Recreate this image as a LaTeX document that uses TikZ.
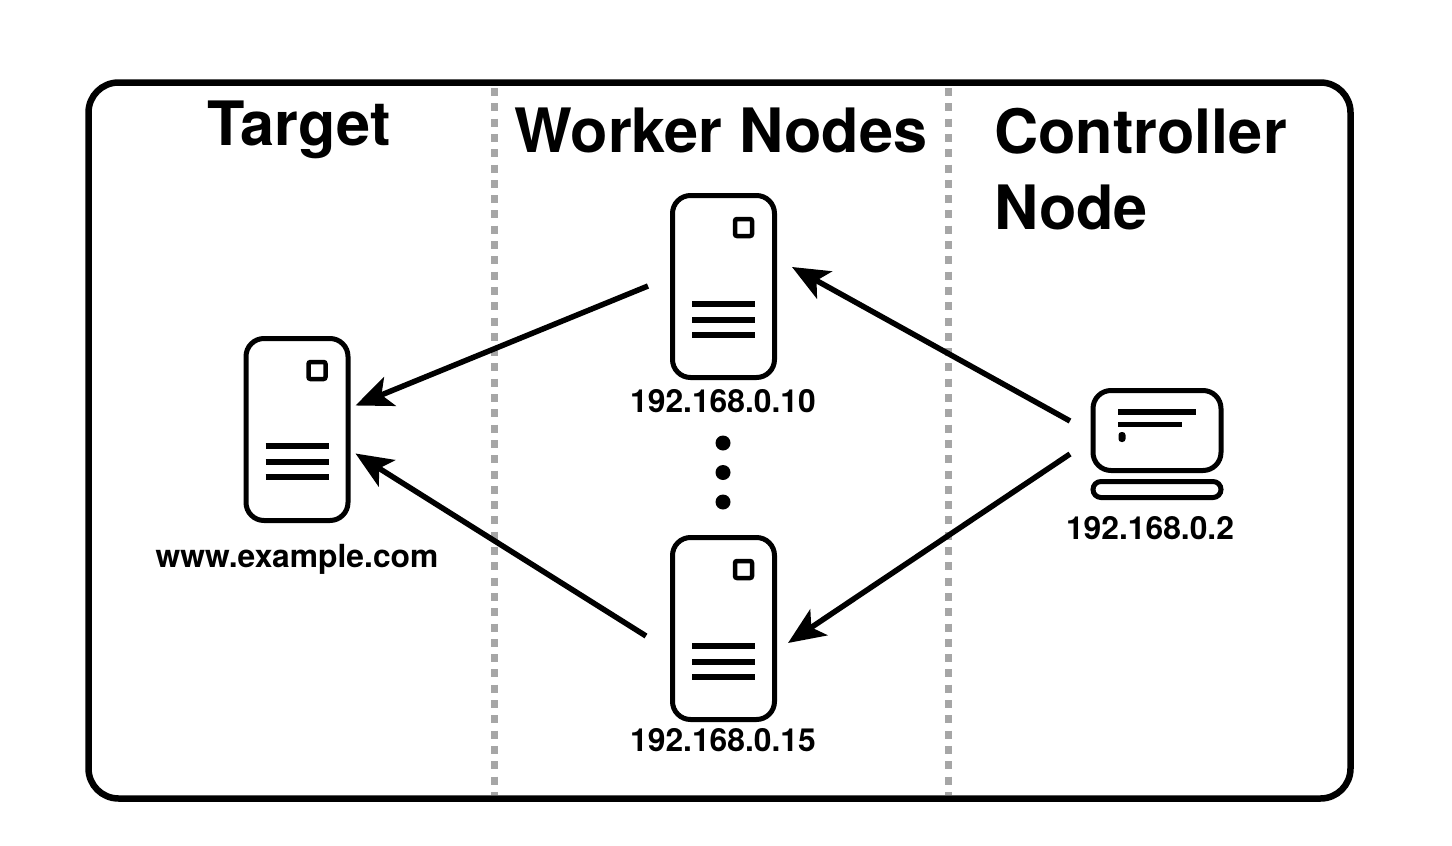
\documentclass[tikz,border=0pt]{standalone}
\usepackage{fontspec}
\setmainfont{TeX Gyre Heros}
\usetikzlibrary{arrows.meta,positioning}
\definecolor{sepgray}{HTML}{A6A6A6}
\tikzset{
  frame/.style={draw=black,line width=3.25pt,rounded corners=15pt},
  sep/.style={draw=sepgray,line width=3.5pt,dash pattern=on 4pt off 3.65pt},
  server/.style={draw=black,line width=2.5pt,rounded corners=9pt,minimum width=51pt,minimum height=91pt,inner sep=0pt},
  led/.style={draw=black,line width=2.25pt,rounded corners=1pt,minimum size=8.5pt,inner sep=0pt},
  bar/.style={draw=black,line width=2.6pt},
  screen/.style={draw=black,line width=2.5pt,rounded corners=9pt,minimum width=64pt,minimum height=40pt,inner sep=0pt},
  kbd/.style={draw=black,line width=2.5pt,rounded corners=4pt,minimum width=64pt,minimum height=8pt,inner sep=0pt},
  title/.style={font=\fontsize{30.6}{38}\selectfont\bfseries,inner sep=0pt},
  addr/.style={font=\fontsize{15.9}{18}\selectfont\bfseries,inner sep=0pt,anchor=base},
  dotn/.style={circle,fill=black,minimum size=7.5pt,inner sep=0pt},
  ar/.style={-{Stealth[length=18.5pt,width=15.5pt,inset=4.5pt]},draw=black,line width=2.75pt},
}
\begin{document}
\begin{tikzpicture}[x=.5pt,y=-.5pt]
\useasboundingbox (0,0) rectangle (1452,846);
% frame and separators
\node[frame,minimum width=631pt,minimum height=358pt,inner sep=0pt] (box) at (719.5,440.5) {};
\draw[sep] (494,88) -- (494,795);
\draw[sep] (948,88) -- (948,795);
% column titles
\node[title,anchor=base] (tt) at (299,145) {Target};
\node[title,anchor=base] (tw) at (721,152) {Worker Nodes};
\node[title,anchor=north west,align=left] (tc) at (994,108) {Controller\\Node};
% servers
\foreach \s/\x/\y/\o in {t/297/429.5/-1,wa/723.5/286.5/0,wb/723.5/628.5/0} {
  \node[server] (\s) at (\x,\y) {};
  \node[led] (\s led) at ([shift={(20,-59)}]\s.center) {};
  \foreach \d in {17.5,33.5,48.5}
    \draw[bar] ([shift={(-31.5,\d+\o)}]\s.center) -- ++(63,0);
}
\node[addr] (lt) at (297,567) {www.example.com};
\node[addr] (la) at (723,412) {192.168.0.10};
\node[addr] (lb) at (723,751) {192.168.0.15};
% dots between the workers
\foreach \i/\y in {1/443,2/472.5,3/502}
  \node[dotn] (d\i) at (723,\y) {};
% controller
\node[screen] (pc) at (1157,430.5) {};
\node[kbd] (kb) at (1157,489.5) {};
\draw[bar] (1118,412) -- (1196,412);
\draw[line width=2.2pt] (1118,424.5) -- (1182,424.5);
\node[fill=black,rounded corners=1.5pt,minimum width=3.5pt,minimum height=5pt,inner sep=0pt] (pcdot) at (1122,437) {};
\node[addr] (lc) at (1150,539) {192.168.0.2};
% arrow ends
\coordinate (wao) at ([xshift=-11pt,yshift=.25pt]wa.west);
\coordinate (wbo) at ([xshift=-12pt,yshift=-3.75pt]wb.west);
\coordinate (tia) at ([xshift=2.5pt,yshift=12pt]t.east);
\coordinate (tib) at ([xshift=2.5pt,yshift=-12pt]t.east);
\coordinate (wai) at ([xshift=7.5pt,yshift=9.75pt]wa.east);
\coordinate (wbi) at ([xshift=5.5pt,yshift=-7.25pt]wb.east);
\coordinate (pca) at ([xshift=-10.25pt,yshift=4.75pt]pc.west);
\coordinate (pcb) at ([xshift=-10.25pt,yshift=-11.75pt]pc.west);
\draw[ar] (wao) -- (tia);
\draw[ar] (wbo) -- (tib);
\draw[ar] (pca) -- (wai);
\draw[ar] (pcb) -- (wbi);
\end{tikzpicture}
\end{document}
